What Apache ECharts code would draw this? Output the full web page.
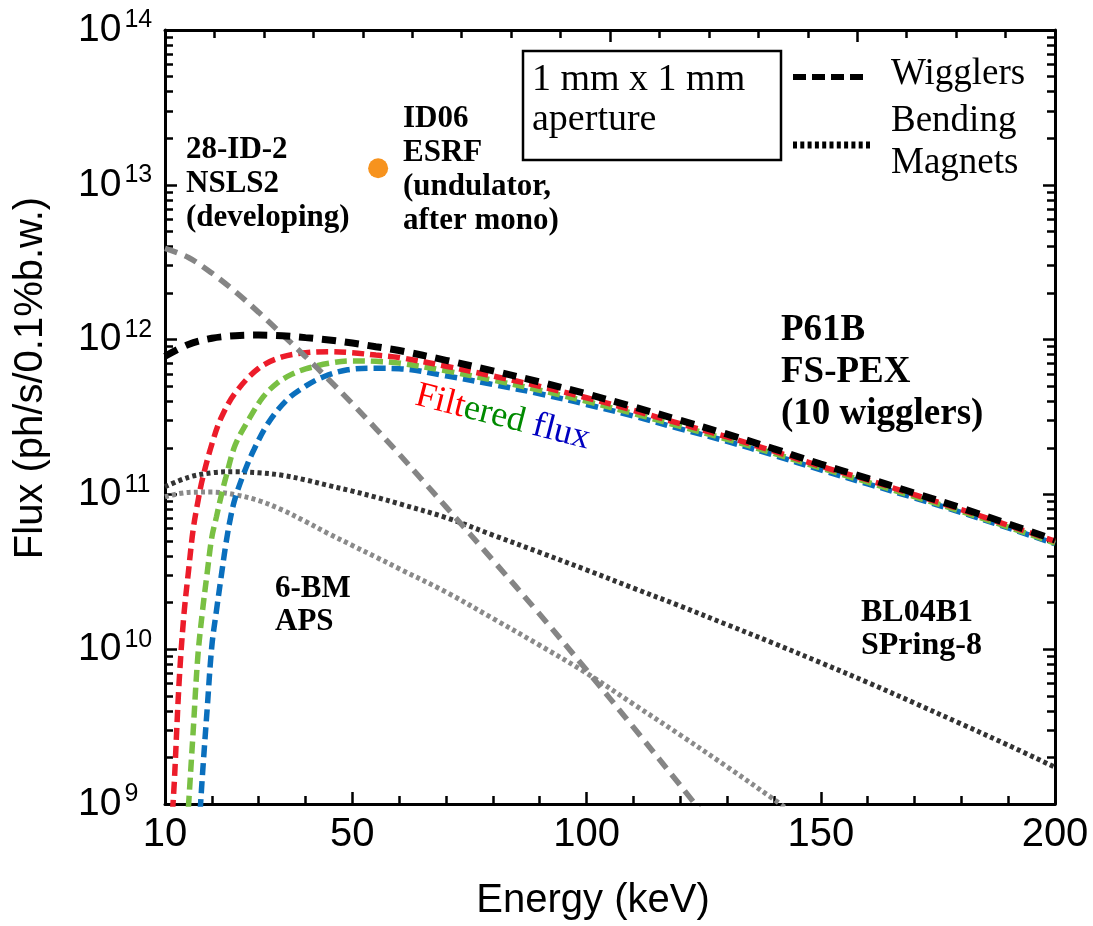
<!DOCTYPE html>
<html>
<head>
<meta charset="utf-8">
<script src="https://cdn.jsdelivr.net/npm/echarts@6/dist/echarts.min.js"></script>
<style>
  html, body { margin: 0; padding: 0; background: #fff; }
  #chart { width: 1093px; height: 926px; }
</style>
</head>
<body>
<div id="chart"></div>
<script>
// ---- Photon flux vs. energy for several high-energy beamlines ----

// P61B FS-PEX, 10 wigglers (unfiltered)
const energyWiggler = [10, 15, 20, 25, 30, 35, 40, 45, 50, 55, 60, 70, 80, 90, 100, 110, 120, 130, 140, 150, 160, 170, 180, 190, 200];
const fluxWiggler = [7.8e11, 9.3e11, 1.02e12, 1.06e12, 1.07e12, 1.06e12, 1.03e12, 9.95e11, 9.5e11, 9.0e11, 8.5e11, 7.35e11, 6.28e11, 5.32e11, 4.46e11, 3.68e11, 3.01e11, 2.45e11, 1.97e11, 1.57e11, 1.27e11, 1.02e11, 8.17e10, 6.46e10, 5.08e10];

// Filtered flux, three filter settings
const energyRed = [11.6, 12, 13, 14, 15, 16, 17, 18, 20, 22, 25, 30, 35, 40, 45, 50, 55, 60, 70, 80, 90, 100, 110, 120, 130, 140, 150, 160, 170, 180, 190, 200];
const fluxRed = [8.9e8, 1.41e9, 6.03e9, 1.62e10, 3.16e10, 5.89e10, 8.91e10, 1.26e11, 2.11e11, 3.13e11, 4.52e11, 6.53e11, 7.73e11, 8.22e11, 8.36e11, 8.22e11, 7.94e11, 7.66e11, 6.73e11, 5.82e11, 4.99e11, 4.21e11, 3.49e11, 2.86e11, 2.35e11, 1.90e11, 1.52e11, 1.24e11, 9.95e10, 7.98e10, 6.32e10, 4.99e10];

const energyGreen = [15.0, 16, 17, 18, 19, 20, 21, 22, 23, 25, 28, 31, 34, 37, 40, 45, 50, 55, 60, 70, 80, 90, 100, 110, 120, 130, 140, 150, 160, 170, 180, 190, 200];
const fluxGreen = [9.5e8, 2.9e9, 8.9e9, 1.76e10, 3.1e10, 5.3e10, 7.2e10, 9.8e10, 1.29e11, 2.09e11, 3.09e11, 4.28e11, 5.25e11, 5.96e11, 6.46e11, 7.03e11, 7.28e11, 7.24e11, 7.05e11, 6.28e11, 5.47e11, 4.71e11, 3.99e11, 3.33e11, 2.75e11, 2.27e11, 1.84e11, 1.48e11, 1.20e11, 9.68e10, 7.76e10, 6.15e10, 4.85e10];

const energyBlue = [17.5, 18, 19, 20, 21, 22, 23, 24, 25, 27, 29, 32, 36, 40, 44, 49, 55, 60, 70, 80, 90, 100, 110, 120, 130, 140, 150, 160, 170, 180, 190, 200];
const fluxBlue = [9.0e8, 1.55e9, 4.1e9, 1.05e10, 1.79e10, 2.95e10, 4.8e10, 7.1e10, 9.5e10, 1.41e11, 1.95e11, 2.88e11, 4.07e11, 5.0e11, 5.78e11, 6.38e11, 6.53e11, 6.49e11, 5.83e11, 5.13e11, 4.47e11, 3.81e11, 3.21e11, 2.65e11, 2.20e11, 1.79e11, 1.44e11, 1.17e11, 9.5e10, 7.64e10, 6.07e10, 4.80e10];

// 28-ID-2 NSLS2 (wiggler)
const energyNSLS2 = [10, 15, 20, 25, 30, 35, 40, 45, 50, 55, 60, 65, 70, 80, 90, 100, 110, 120, 125];
const fluxNSLS2 = [3.89e12, 3.39e12, 2.69e12, 2.04e12, 1.50e12, 1.08e12, 7.76e11, 5.5e11, 3.85e11, 2.66e11, 1.82e11, 1.23e11, 8.3e10, 3.76e10, 1.68e10, 7.33e9, 3.13e9, 1.32e9, 8.5e8];

// 6-BM APS (bending magnet)
const energyAPS = [10, 15, 20, 25, 30, 35, 40, 45, 50, 55, 60, 70, 80, 90, 100, 110, 120, 130, 140, 145];
const fluxAPS = [9.66e10, 1.03e11, 1.035e11, 9.95e10, 9.12e10, 7.94e10, 6.68e10, 5.56e10, 4.68e10, 3.94e10, 3.31e10, 2.34e10, 1.58e10, 1.06e10, 7.0e9, 4.42e9, 2.79e9, 1.74e9, 1.07e9, 8.3e8];

// BL04B1 SPring-8 (bending magnet)
const energySP8 = [10, 15, 20, 25, 30, 35, 40, 45, 50, 55, 60, 70, 80, 90, 100, 110, 120, 130, 140, 150, 160, 170, 180, 190, 200];
const fluxSP8 = [1.12e11, 1.29e11, 1.38e11, 1.40e11, 1.38e11, 1.33e11, 1.24e11, 1.14e11, 1.05e11, 9.6e10, 8.7e10, 7.08e10, 5.46e10, 4.22e10, 3.25e10, 2.48e10, 1.90e10, 1.44e10, 1.09e10, 8.18e9, 6.1e9, 4.49e9, 3.29e9, 2.4e9, 1.73e9];

// ID06 ESRF (undulator, after monochromator): single point
const pointESRF = [[55.5, 1.28e13]];

// Axis ticks and labels
const xTickLabels = [10, 50, 100, 150, 200];
const xMajorTicks = [50, 100, 150];
const xTopMajorTicks = [100, 150];
const yDecades = [1e9, 1e10, 1e11, 1e12, 1e13, 1e14];
const yMinorTicks = [];
yDecades.slice(0, -1).forEach(d => { for (let m = 2; m <= 9; m++) yMinorTicks.push(d * m); });

const SANS = 'Liberation Sans';
const SERIF = 'Liberation Serif';

const zip = (xs, ys) => xs.map((x, i) => [x, ys[i]]);

function curve(name, xs, ys, color, width, dash, z) {
  return {
    name, type: 'line', data: zip(xs, ys),
    xAxisIndex: 0, yAxisIndex: 0,
    showSymbol: false, symbol: 'none',
    smooth: 0.35,
    clip: true, z,
    lineStyle: { color, width, type: dash, cap: 'butt' }
  };
}

const blank = { show: false };

function xAx(extra) {
  return Object.assign({
    type: 'value', gridIndex: 0,
    splitLine: blank, axisLabel: blank,
    axisLine: { show: false, onZero: false },
  }, extra);
}
function yAx(extra) {
  return Object.assign({
    type: 'log', logBase: 10, min: 1e9, max: 1e14, gridIndex: 0,
    splitLine: blank, axisLabel: blank,
    axisLine: { show: false, onZero: false },
  }, extra);
}
const frameLine = { show: true, onZero: false, lineStyle: { color: '#000', width: 3 } };
const tickStyle = { color: '#000', width: 2.5 };

const option = {
  animation: false,
  backgroundColor: '#fff',
  grid: { left: 165, top: 30, width: 890, height: 774, show: false },
  xAxis: [
    xAx({
      min: 10, max: 200, interval: 10, position: 'bottom',
      axisLine: frameLine,
      axisTick: { inside: true, length: 8, lineStyle: tickStyle },
      axisLabel: {
        show: true, customValues: xTickLabels, margin: 11,
        fontSize: 40, fontFamily: SANS, color: '#000'
      }
    }),
    xAx({
      min: 10, max: 200, position: 'bottom',
      axisTick: { inside: true, length: 12, customValues: xMajorTicks, lineStyle: tickStyle }
    }),
    xAx({
      min: 10, max: 190, interval: 10, position: 'top',
      axisLine: frameLine,
      axisTick: { inside: true, length: 8, lineStyle: tickStyle }
    }),
    xAx({
      min: 10, max: 190, position: 'top',
      axisTick: { inside: true, length: 12, customValues: xTopMajorTicks, lineStyle: tickStyle }
    })
  ],
  yAxis: [
    yAx({
      position: 'left',
      axisLine: frameLine,
      axisTick: { inside: true, length: 12, customValues: yDecades, lineStyle: tickStyle },
      axisLabel: {
        show: true, customValues: yDecades, margin: 87, align: 'left',
        formatter: v => '{b|10}{s|' + Math.round(Math.log10(v)) + '}',
        rich: {
          b: { fontSize: 39, fontFamily: SANS, color: '#000', lineHeight: 44 },
          s: { fontSize: 25, fontFamily: SANS, color: '#000', lineHeight: 22, verticalAlign: 'top', padding: [0, 0, 0, 3] }
        }
      }
    }),
    yAx({
      position: 'left',
      axisTick: { inside: true, length: 8, customValues: yMinorTicks, lineStyle: tickStyle }
    }),
    yAx({
      position: 'right',
      axisLine: frameLine,
      axisTick: { inside: true, length: 12, customValues: yDecades, lineStyle: tickStyle }
    }),
    yAx({
      position: 'right',
      axisTick: { inside: true, length: 8, customValues: yMinorTicks, lineStyle: tickStyle }
    })
  ],
  series: [
    curve('BL04B1 SPring-8', energySP8, fluxSP8, '#333333', 5, [4, 3.3], 2),
    curve('6-BM APS', energyAPS, fluxAPS, '#8a8a8a', 5, [4, 3.3], 2),
    curve('Filtered (blue)', energyBlue, fluxBlue, '#0a6fbd', 5.5, [12, 6], 3),
    curve('Filtered (green)', energyGreen, fluxGreen, '#79c043', 5.5, [12, 6], 4),
    curve('Filtered (red)', energyRed, fluxRed, '#ec1c2a', 5.5, [12, 6], 5),
    curve('28-ID-2 NSLS2', energyNSLS2, fluxNSLS2, '#858585', 5.5, [13, 8], 6),
    curve('P61B FS-PEX', energyWiggler, fluxWiggler, '#000000', 7, [14, 9], 7),
    {
      name: 'ID06 ESRF', type: 'scatter', data: pointESRF,
      symbol: 'circle', symbolSize: 20, z: 8,
      itemStyle: { color: '#f7931e', opacity: 1 }
    }
  ],
  graphic: [
    // axis titles
    { type: 'text', x: 31, y: 378, rotation: Math.PI / 2,
      style: { text: 'Flux (ph/s/0.1%b.w.)', fontSize: 40, fontFamily: SANS, fill: '#000', align: 'center', verticalAlign: 'middle' } },
    { type: 'text', x: 593, y: 901,
      style: { text: 'Energy (keV)', fontSize: 40, fontFamily: SANS, fill: '#000', align: 'center', verticalAlign: 'middle' } },

    // aperture box
    { type: 'rect', shape: { x: 523, y: 51, width: 258, height: 109 },
      style: { fill: 'none', stroke: '#000', lineWidth: 2.5 } },
    { type: 'text', x: 532, y: 60,
      style: { text: '1 mm x 1 mm\naperture', fontSize: 38, fontFamily: SERIF, fill: '#000', lineHeight: 40, verticalAlign: 'top' } },

    // line-style key
    { type: 'line', shape: { x1: 793, y1: 77, x2: 863, y2: 77 },
      style: { stroke: '#000', lineWidth: 6, lineDash: [13, 6] } },
    { type: 'text', x: 891, y: 74,
      style: { text: 'Wigglers', fontSize: 37, fontFamily: SERIF, fill: '#000', verticalAlign: 'middle' } },
    { type: 'line', shape: { x1: 793, y1: 145, x2: 870, y2: 145 },
      style: { stroke: '#000', lineWidth: 7, lineDash: [4, 3.3] } },
    { type: 'text', x: 891, y: 100,
      style: { text: 'Bending\nMagnets', fontSize: 37, fontFamily: SERIF, fill: '#000', lineHeight: 42, verticalAlign: 'top' } },

    // beamline annotations
    { type: 'text', x: 186, y: 133,
      style: { text: '28-ID-2\nNSLS2\n(developing)', fontSize: 31, fontWeight: 'bold', fontFamily: SERIF, fill: '#000', lineHeight: 34, verticalAlign: 'top' } },
    { type: 'text', x: 403, y: 102,
      style: { text: 'ID06\nESRF\n(undulator,\nafter mono)', fontSize: 31, fontWeight: 'bold', fontFamily: SERIF, fill: '#000', lineHeight: 34, verticalAlign: 'top' } },
    { type: 'text', x: 781, y: 310,
      style: { text: 'P61B\nFS-PEX\n(10 wigglers)', fontSize: 37, fontWeight: 'bold', fontFamily: SERIF, fill: '#000', lineHeight: 41.7, verticalAlign: 'top' } },
    { type: 'text', x: 275, y: 573,
      style: { text: '6-BM\nAPS', fontSize: 31, fontWeight: 'bold', fontFamily: SERIF, fill: '#000', lineHeight: 32.4, verticalAlign: 'top' } },
    { type: 'text', x: 861, y: 596,
      style: { text: 'BL04B1\nSPring-8', fontSize: 32, fontWeight: 'bold', fontFamily: SERIF, fill: '#000', lineHeight: 33.3, verticalAlign: 'top' } },

    // filtered flux label
    { type: 'text', x: 416, y: 395, rotation: -0.252,
      style: {
        text: '{r|Filt}{g|ered} {b|flux}', fontSize: 36, fontFamily: SERIF, verticalAlign: 'middle',
        rich: {
          r: { fontSize: 36, fontFamily: SERIF, fill: '#ff0000' },
          g: { fontSize: 36, fontFamily: SERIF, fill: '#008a00' },
          b: { fontSize: 36, fontFamily: SERIF, fill: '#0000c0' }
        }
      } }
  ]
};

const chart = echarts.init(document.getElementById('chart'), null, { renderer: 'canvas' });
chart.setOption(option);
</script>
</body>
</html>
